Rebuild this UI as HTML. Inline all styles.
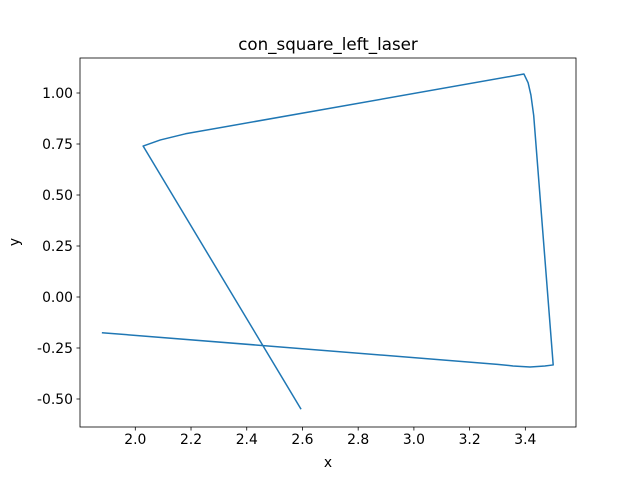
<!DOCTYPE html>
<html><head><meta charset="utf-8"><style>
body{margin:0;background:#fff;font-family:"Liberation Sans","DejaVu Sans",sans-serif}
svg text{font-family:"DejaVu Sans","Liberation Sans",sans-serif;font-size:13.9px;fill:#000}
</style></head><body>
<svg id="chart" width="640" height="480" xmlns="http://www.w3.org/2000/svg">
<rect width="640" height="480" fill="#fff"/>
<text x="328" y="50" text-anchor="middle" style="font-size:16.7px">con_square_left_laser</text>
<g id="ax"></g>
<text x="328" y="467" text-anchor="middle">x</text>
<text x="0" y="0" text-anchor="middle" transform="translate(19,242) rotate(-90)">y</text>
</svg>
<script>
const xs=[1.88,3.30,3.356,3.417,3.47,3.50,3.43,3.42,3.41,3.395,2.18,2.09,2.028,2.595];
const ys=[-0.175,-0.33,-0.338,-0.343,-0.338,-0.333,0.89,0.99,1.05,1.093,0.80,0.77,0.74,-0.55];
const xTicks=[2.0,2.2,2.4,2.6,2.8,3.0,3.2,3.4];
const yTicks=[-0.5,-0.25,0,0.25,0.5,0.75,1.0];
const L=80,R=576,T=58,B=427;
const X=v=>135.3+(v-2.0)*278.6;
const Y=v=>93+(1.0-v)*204;
const ns="http://www.w3.org/2000/svg";
const g=document.getElementById('ax');
function mk(t,a){const e=document.createElementNS(ns,t);for(const k in a)e.setAttribute(k,a[k]);g.appendChild(e);return e;}
xTicks.forEach(v=>{
 const l=mk('line',{x1:X(v),x2:X(v),y1:B,y2:B+3.5,stroke:'#000','stroke-width':0.8});
 
 
 const t=mk('text',{x:X(v),y:B+17,'text-anchor':'middle'});t.textContent=v.toFixed(1);
 
 
});
yTicks.forEach(v=>{
 const l=mk('line',{x1:L-3.5,x2:L,y1:Y(v),y2:Y(v),stroke:'#000','stroke-width':0.8});
 
 
 const t=mk('text',{x:L-7,y:Y(v)+5,'text-anchor':'end'});t.textContent=v.toFixed(2);
 
 
});
const p=mk('polyline',{points:xs.map((x,i)=>X(x)+','+Y(ys[i])).join(' '),fill:'none',stroke:'#1f77b4','stroke-width':1.5,'stroke-linejoin':'round'});


const f=mk('rect',{x:L,y:T,width:R-L,height:B-T,fill:'none',stroke:'#000','stroke-width':0.8});


</script>
</body></html>
